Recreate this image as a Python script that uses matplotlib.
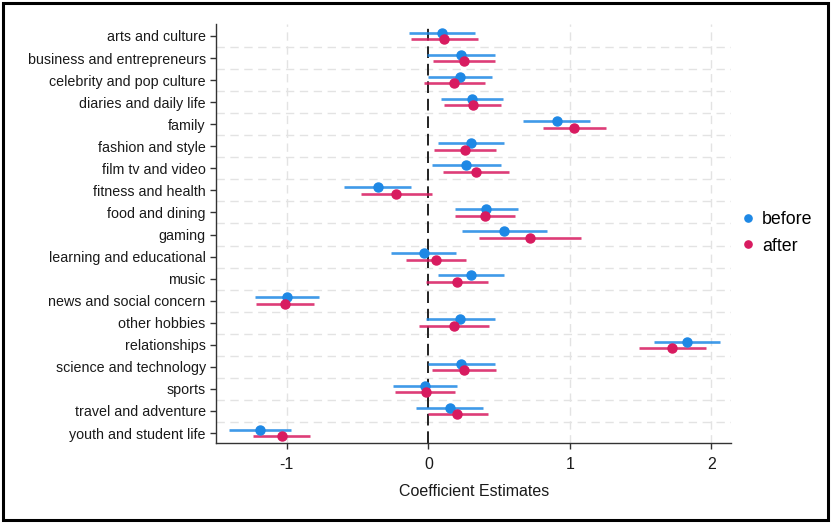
import matplotlib
matplotlib.use("Agg")
import matplotlib.pyplot as plt
from matplotlib.patches import Rectangle
import numpy as np

categories = ["arts and culture", "business and entrepreneurs", "celebrity and pop culture",
              "diaries and daily life", "family", "fashion and style", "film tv and video",
              "fitness and health", "food and dining", "gaming", "learning and educational",
              "music", "news and social concern", "other hobbies", "relationships",
              "science and technology", "sports", "travel and adventure", "youth and student life"]

before_est = [0.097, 0.233, 0.221, 0.310, 0.908, 0.301, 0.266, -0.358, 0.409, 0.535,
              -0.033, 0.301, -1.000, 0.226, 1.826, 0.233, -0.026, 0.151, -1.190]
before_lo = [-0.134, -0.010, -0.002, 0.090, 0.666, 0.068, 0.028, -0.593, 0.186, 0.237,
             -0.261, 0.066, -1.226, -0.016, 1.595, -0.002, -0.249, -0.085, -1.409]
before_hi = [0.332, 0.470, 0.449, 0.529, 1.143, 0.534, 0.510, -0.122, 0.633, 0.838,
             0.193, 0.534, -0.776, 0.468, 2.061, 0.470, 0.200, 0.388, -0.972]

after_est = [0.113, 0.252, 0.183, 0.315, 1.030, 0.259, 0.334, -0.226, 0.400, 0.717,
             0.052, 0.202, -1.014, 0.183, 1.724, 0.254, -0.019, 0.205, -1.037]
after_lo = [-0.122, 0.030, -0.033, 0.110, 0.807, 0.040, 0.101, -0.478, 0.186, 0.360,
            -0.158, -0.016, -1.221, -0.066, 1.491, 0.028, -0.233, -0.005, -1.240]
after_hi = [0.351, 0.473, 0.397, 0.515, 1.254, 0.478, 0.572, 0.024, 0.614, 1.077,
            0.266, 0.423, -0.809, 0.428, 1.962, 0.480, 0.191, 0.421, -0.833]

series_names = ["before", "after"]
xticks = [-1, 0, 1, 2]

blue = "#1E88E5"
red = "#D81B60"

plt.rcParams['font.family'] = ['Liberation Sans', 'DejaVu Sans']

fig = plt.figure(figsize=(8.31, 5.23), dpi=100)
ax = fig.add_axes([0.26, 0.153, 0.62, 0.801])

y = np.arange(len(categories))
off = 0.15

# grid
for g in np.arange(len(categories) - 1) + 0.5:
    ax.axhline(g, color="#e3e3e3", lw=1.0, ls=(0, (6, 4)), zorder=0)
for xt in xticks:
    if xt != 0:
        ax.axvline(xt, color="#e3e3e3", lw=1.0, ls=(0, (6, 4)), zorder=0)
ax.axvline(0, color="#222222", lw=1.4, ls=(0, (6, 3)), zorder=1)

ax.hlines(y - off, before_lo, before_hi, color=blue, lw=1.9, alpha=0.85, zorder=2)
ax.hlines(y + off, after_lo, after_hi, color=red, lw=1.9, alpha=0.85, zorder=2)
ax.plot(before_est, y - off, 'o', color=blue, ms=6.5, zorder=3, label=series_names[0])
ax.plot(after_est, y + off, 'o', color=red, ms=6.5, zorder=3, label=series_names[1])

ax.set_yticks(y)
ax.set_yticklabels(categories, fontsize=10.3, color="#1a1a1a")
ax.set_xticks(xticks)
ax.set_xticklabels([str(v) for v in xticks], fontsize=11.5, color="#1a1a1a")
ax.set_xlim(-1.5, 2.14)
ax.set_ylim(18.45, -0.54)
ax.set_xlabel("Coefficient Estimates", fontsize=11.5, color="#1a1a1a", labelpad=9)

for s in ["top", "right"]:
    ax.spines[s].set_visible(False)
for s in ["left", "bottom"]:
    ax.spines[s].set_color("#333333")
    ax.spines[s].set_linewidth(1.0)
ax.tick_params(axis='both', direction='out', length=4, color="#333333", width=1)
ax.tick_params(axis='x', pad=6)

leg = ax.legend(loc="center left", bbox_to_anchor=(0.985, 0.502), frameon=False,
                fontsize=12.8, handletextpad=0.25, labelspacing=0.55, handlelength=1.0,
                markerscale=0.8)

fig.patches.append(Rectangle((0.004, 0.006), 0.992, 0.988, transform=fig.transFigure,
                             fill=False, edgecolor="black", lw=2.2))

fig.savefig("out.png", dpi=100)
